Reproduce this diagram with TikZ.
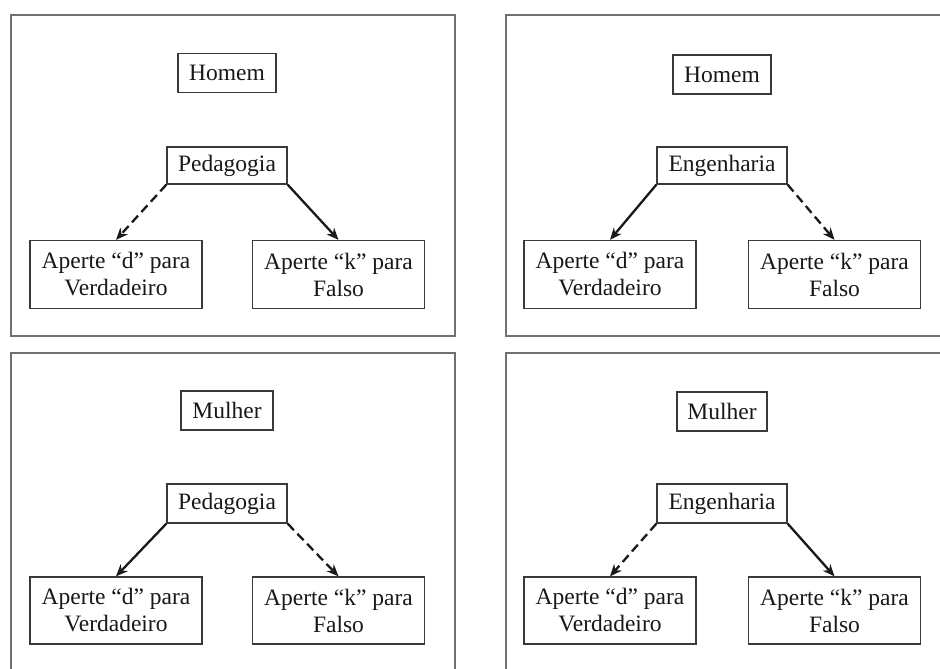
\documentclass[tikz,border=0pt]{standalone}
\usepackage{fontspec}
\setmainfont{Liberation Serif}
\usetikzlibrary{arrows.meta}
\definecolor{panelgray}{HTML}{707070}
\definecolor{boxgray}{HTML}{3A3A3A}
\definecolor{txt}{HTML}{181818}
\tikzset{
  panel/.style={draw=panelgray, line width=1.7pt},
  lbl/.style={draw=boxgray, line width=1.3pt, text=txt, inner sep=0pt, align=center,
    font=\fontsize{23.5}{27}\selectfont},
  topbox/.style={lbl, minimum height=39pt},
  midbox/.style={lbl, minimum height=37pt},
  ansbox/.style={lbl, minimum width=172pt, minimum height=68pt},
  conn/.style={line width=2.3pt, black!90, -{Stealth[length=12pt,width=10pt]}},
  dconn/.style={conn, dash pattern=on 9pt off 5pt},
}
\begin{document}
\begin{tikzpicture}[x=1pt,y=-1pt]
\useasboundingbox (0,0) rectangle (940,669);
\fill[white] (0,0) rectangle (940,669);
\begin{scope}
\clip (0,0) rectangle (940,669);
% panels
\draw[panel] (11,15) rectangle (455,336);
\draw[panel] (506,15) rectangle (950,336);
\draw[panel] (11,353) rectangle (455,680);
\draw[panel] (506,353) rectangle (950,680);
\end{scope}

% top-left
\node[topbox, minimum width=98pt] (tlH) at (227,73) {Homem};
\node[midbox, minimum width=120pt] (tlP) at (227,165.5) {Pedagogia};
\node[ansbox] (tlD) at (116,274.5) {Aperte “d” para\\Verdadeiro};
\node[ansbox] (tlK) at (338.5,274.5) {Aperte “k” para\\Falso};
\draw[dconn] (tlP.south west) -- (tlD.north);
\draw[conn] (tlP.south east) -- (tlK.north);

% top-right
\node[topbox, minimum width=98pt] (trH) at (722,74.5) {Homem};
\node[midbox, minimum width=130pt] (trE) at (722,165.5) {Engenharia};
\node[ansbox] (trD) at (610,274.5) {Aperte “d” para\\Verdadeiro};
\node[ansbox] (trK) at (834.5,274.5) {Aperte “k” para\\Falso};
\draw[conn] (trE.south west) -- (trD.north);
\draw[dconn] (trE.south east) -- (trK.north);

% bottom-left
\node[topbox, minimum width=92pt] (blM) at (227,410.5) {Mulher};
\node[midbox, minimum width=120pt, minimum height=39pt] (blP) at (227,503.5) {Pedagogia};
\node[ansbox, minimum height=67pt] (blD) at (116,610.5) {Aperte “d” para\\Verdadeiro};
\node[ansbox, minimum height=67pt] (blK) at (338.5,610.5) {Aperte “k” para\\Falso};
\draw[conn] (blP.south west) -- (blD.north);
\draw[dconn] (blP.south east) -- (blK.north);

% bottom-right
\node[topbox, minimum width=90pt] (brM) at (722,411.5) {Mulher};
\node[midbox, minimum width=130pt, minimum height=39pt] (brE) at (722,503.5) {Engenharia};
\node[ansbox, minimum height=67pt] (brD) at (610,610.5) {Aperte “d” para\\Verdadeiro};
\node[ansbox, minimum height=67pt] (brK) at (834.5,610.5) {Aperte “k” para\\Falso};
\draw[dconn] (brE.south west) -- (brD.north);
\draw[conn] (brE.south east) -- (brK.north);
\end{tikzpicture}
\end{document}
